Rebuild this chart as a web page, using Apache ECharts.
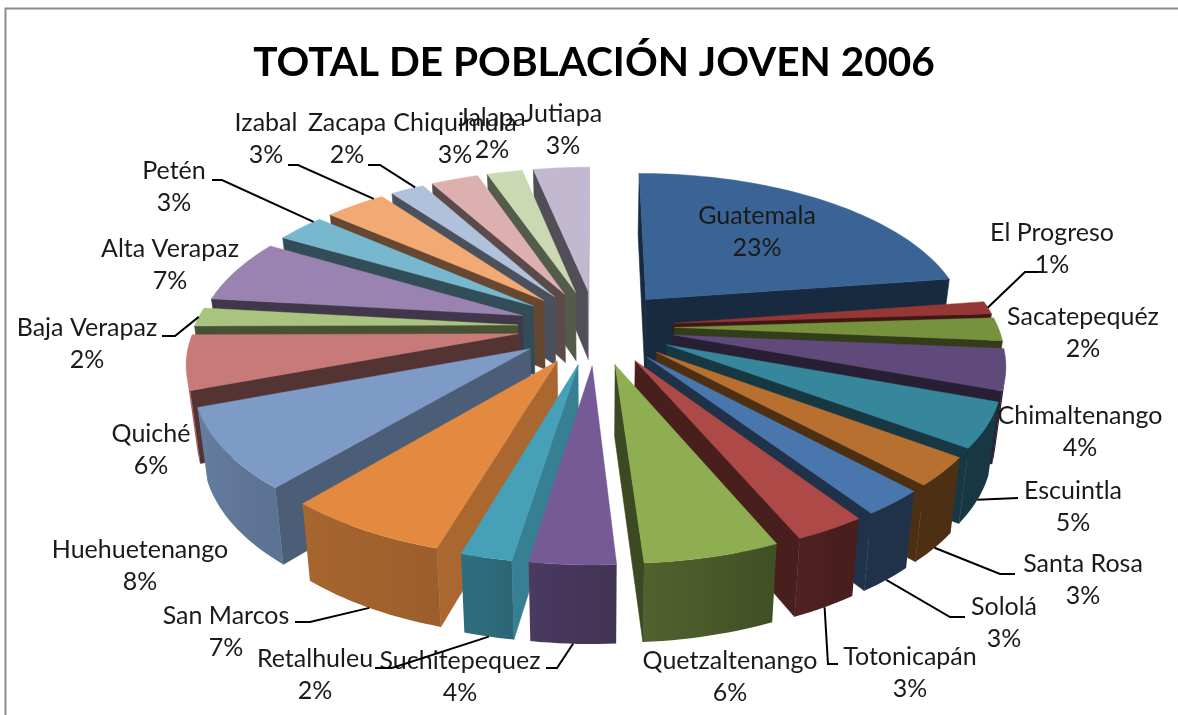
<!DOCTYPE html>
<html><head><meta charset="utf-8">
<style>html,body{margin:0;padding:0;background:#fff}#c{width:1178px;height:715px}</style>
<script src="https://cdn.jsdelivr.net/npm/echarts@6/dist/echarts.min.js"></script>
</head><body><div id="c"></div>
<script>
const categories=['Guatemala','El Progreso','Sacatepequéz','Chimaltenango','Escuintla','Santa Rosa','Sololá','Totonicapán','Quetzaltenango','Suchitepequez','Retalhuleu','San Marcos','Huehuetenango','Quiché','Baja Verapaz','Alta Verapaz','Petén','Izabal','Zacapa','Chiquimula','Jalapa','Jutiapa'];
const shares=[22.7,1.3,2.35,4.15,4.5,2.9,2.6,2.95,5.55,3.5,2.1,6.7,8.1,5.5,1.9,6.5,2.9,3.6,2.0,2.8,2.1,3.3];
const percentLabels=['23%','1%','2%','4%','5%','3%','3%','3%','6%','4%','2%','7%','8%','6%','2%','7%','3%','3%','2%','3%','2%','3%'];
const topColors=['#3A6496','#953735','#76923C','#604A7B','#36869C','#B87030','#4A76AE','#AD4A47','#8FAE52','#765A96','#45A0B8','#E38A40','#7D9BC6','#C87A78','#A9C47E','#9A83B0','#78B8CE','#F3A974','#B0C1DC','#DCB0AF','#CBD9B2','#C2B9D0'];
// label layout: centre x, centre y of the two lines, leader elbow points, where along the slice's rim the leader lands
const labelLayout=[[757,232],[1052,249,[[1042,272],[1025,272]]],[1083,333],[1080,432],[1073,507,[[1018,498]]],[1083,580,[[1015,574],[1000,574]]],[1004,623,[[965,617],[950,617]]],[910,673,[[838,664],[828,664]]],[730,677],[460,677,[[546,668],[557,668]]],[315,675,[[375,668],[392,668]]],[226,632,[[295,622],[310,622]]],[140,566],[151,450],[87,344,[[162,336],[175,336]]],[170,265],[174,187,[[212,180],[222,180]],0.85],[266,139,[[288,165],[298,165]],0.85],[347,139,[[368,165],[380,165]],0.75],[455,139],[492,134],[563,130]];

const CX=596,CY=327,A=402,Q=0.476,K=0.196,R=0.805,E=0.195;
const total=shares.reduce((a,b)=>a+b,0);
let acc=0;const spans=shares.map(v=>{const s=acc/total*2*Math.PI;acc+=v;return [s,acc/total*2*Math.PI];});
function proj(x,v){const s=1/(1-K*v);return [CX+A*s*x,CY+A*s*Q*v];}
function lower(p,v){return [CX+(p[0]-CX)*0.975,p[1]+70*(1+0.13*v)];}
function shade(hex,f){const n=parseInt(hex.slice(1),16);const c=[n>>16,(n>>8)&255,n&255].map(x=>Math.round(x*f));return 'rgb('+c.join(',')+')';}
function wrap(t){t=t%(2*Math.PI);return t<0?t+2*Math.PI:t;}
function deg(t){return wrap(t)*180/Math.PI;}
const outerRamp=[[150,.42],[180,.58],[195,.68],[225,.75],[265,.85],[290,.88]];
function outerShade(t){const d=deg(t);if(d<=150||d>290)return 0.42;
  for(let i=1;i<outerRamp.length;i++){const a=outerRamp[i-1],b=outerRamp[i];if(d<=b[0])return a[1]+(b[1]-a[1])*(d-a[0])/(b[0]-a[0]);}
  return 0.88;}
function cutShade(n){const d=deg(n);if(d>=90&&d<=160)return 0.85-(d-90)/70*0.43;return 0.42;}
function sliceGeom(i){
  const [a,b]=spans[i],m=(a+b)/2,ex=E*Math.sin(m),ev=-E*Math.cos(m);
  const tip={x:ex,v:ev};const arc=[];const n=Math.max(2,Math.ceil((b-a)/(Math.PI/120)));
  for(let k=0;k<=n;k++){const t=a+(b-a)*k/n;arc.push({x:ex+R*Math.sin(t),v:ev-R*Math.cos(t),t});}
  return {a,b,m,tip,arc};
}
function sliceChildren(i){
  const g=sliceGeom(i),col=topColors[i],kids=[];
  const pts=[g.tip,...g.arc];
  const tops=pts.map(p=>proj(p.x,p.v)),bots=tops.map((p,j)=>lower(p,pts[j].v));
  const visible=(j,k)=>{
    const q=[tops[j],tops[k],bots[k],bots[j]];let ar=0;
    for(let u=0;u<4;u++){const w=(u+1)%4;ar+=q[u][0]*q[w][1]-q[w][0]*q[u][1];}
    return ar<0;
  };
  const flat=(j,k,f)=>{
    if(visible(j,k)){const c=shade(col,f);kids.push({type:'polygon',shape:{points:[tops[j],tops[k],bots[k],bots[j]]},style:{fill:c,stroke:c,lineWidth:0.6}});}
  };
  flat(0,1,cutShade(g.a-Math.PI/2));
  const run=[];
  for(let j=1;j<pts.length-1;j++){if(visible(j,j+1)){if(!run.length)run.push(j);run.push(j+1);}}
  if(run.length>=2){
    const ring=[...run.map(j=>tops[j]),...run.slice().reverse().map(j=>bots[j])];
    const xs=ring.map(p=>p[0]),x0=Math.min(...xs),x1=Math.max(...xs);
    const stops=run.map(j=>({offset:Math.min(1,Math.max(0,(tops[j][0]-x0)/((x1-x0)||1))),color:shade(col,outerShade(pts[j].t))})).sort((p,r)=>p.offset-r.offset);
    const fill=new echarts.graphic.LinearGradient(0,0,1,0,stops);
    kids.push({type:'polygon',shape:{points:ring},style:{fill:fill}});
  }
  flat(pts.length-1,0,cutShade(g.b+Math.PI/2));
  kids.push({type:'polygon',shape:{points:tops},style:{fill:col,stroke:col,lineWidth:0.4}});
  return kids;
}
const drawOrder=categories.map((_,i)=>i).sort((p,r)=>{
  const f=i=>-Math.cos((spans[i][0]+spans[i][1])/2);return f(p)-f(r);});
function leaderEnd(i,frac){
  const g=sliceGeom(i),ex=E*Math.sin(g.m),ev=-E*Math.cos(g.m),t=g.a+(g.b-g.a)*(frac===undefined?0.5:frac);
  const x=ex+R*Math.sin(t),v=ev-R*Math.cos(t),p=proj(x,v);
  return v>0?lower(p,v):p;
}
const chart=echarts.init(document.getElementById('c'),null,{renderer:'canvas'});
chart.setOption({
  animation:false,backgroundColor:'#fff',
  title:{text:'TOTAL DE POBLACIÓN JOVEN 2006',left:589,top:37,textAlign:'center',
    textStyle:{fontFamily:'Lato',fontWeight:'bold',fontSize:40.6,color:'#000'}},
  graphic:[{type:'polyline',shape:{points:[[5.5,715],[5.5,8.5],[1178,8.5]]},style:{stroke:'#8c8c8c',lineWidth:2,fill:'none'},z:1}],
  series:[
   {type:'custom',coordinateSystem:'none',silent:true,z:2,
    data:drawOrder.map(i=>[i,shares[i]]),
    renderItem:(p,api)=>({type:'group',children:sliceChildren(api.value(0))})},
   {type:'custom',coordinateSystem:'none',silent:true,z:3,
    data:categories.map((_,i)=>[i,shares[i]]),
    renderItem:(p,api)=>{
      const i=api.value(0),l=labelLayout[i],kids=[];
      if(l[2]){kids.push({type:'polyline',shape:{points:[...l[2],leaderEnd(i,l[3])]},style:{stroke:'#000',lineWidth:2,fill:'none'}});}
      kids.push({type:'text',style:{text:categories[i]+'\n'+percentLabels[i],x:l[0],y:l[1],align:'center',verticalAlign:'middle',lineHeight:32,fontFamily:'Lato',fontSize:25,fill:'#1a1a1a'}});
      return {type:'group',children:kids};
    }}
  ]
});
</script></body></html>
